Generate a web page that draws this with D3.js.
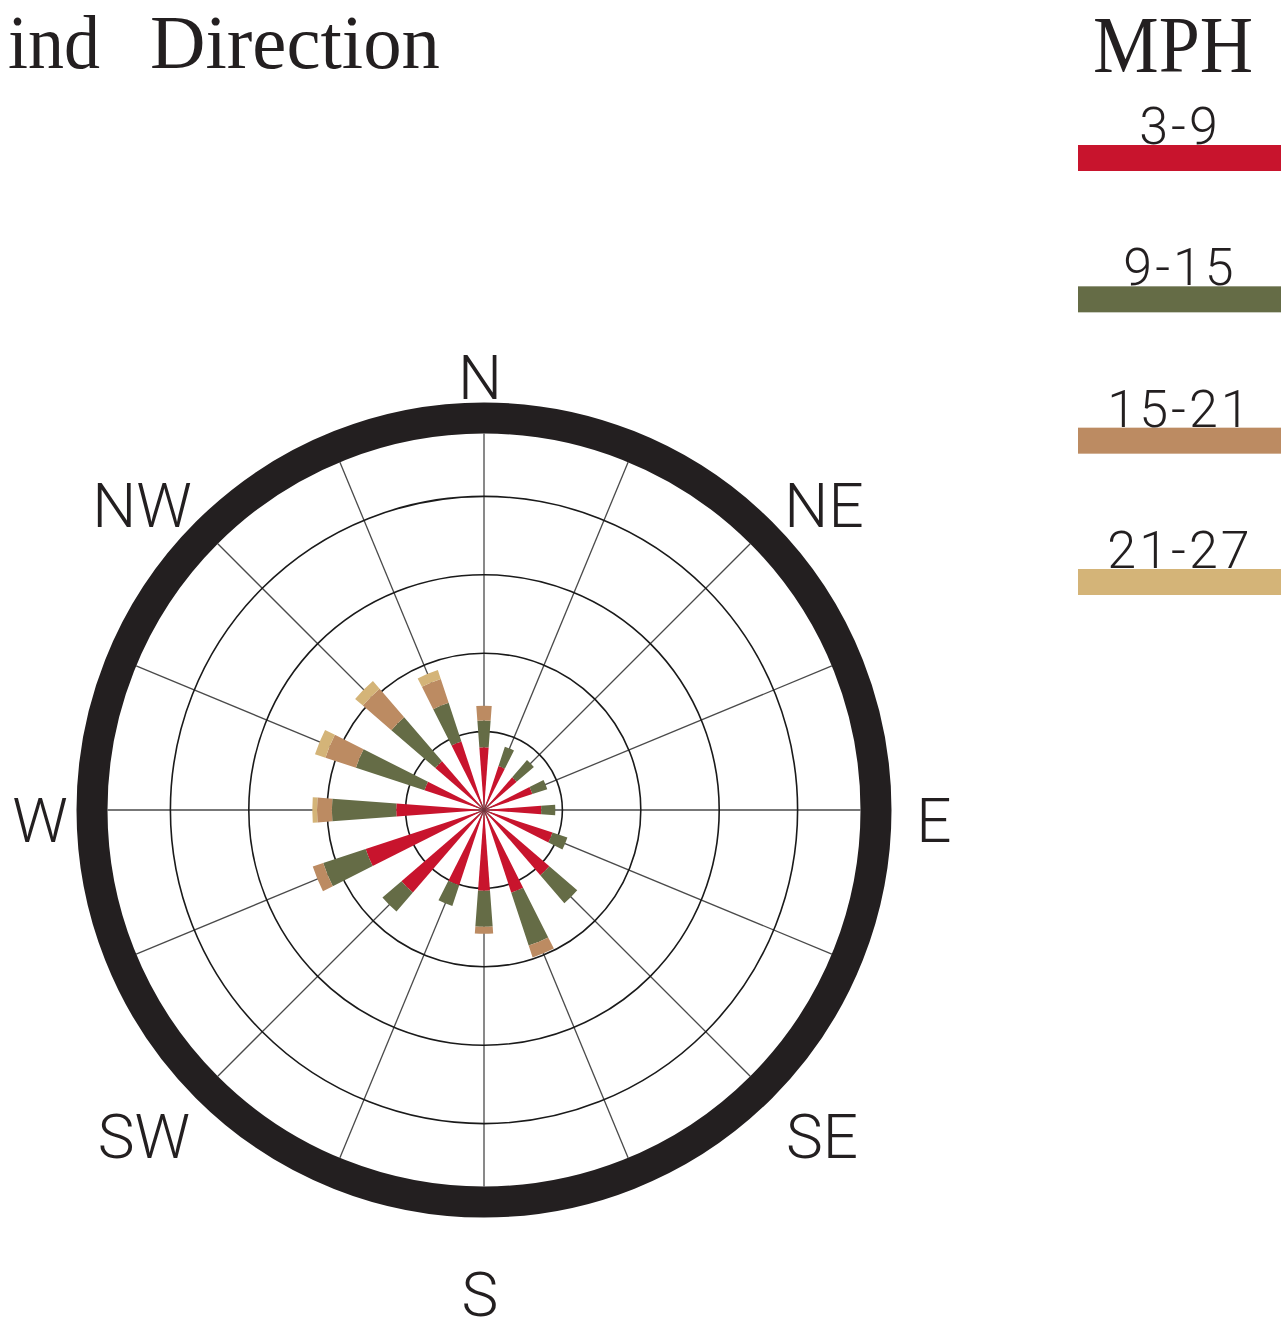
<!DOCTYPE html>
<html>
<head>
<meta charset="utf-8">
<script src="https://cdn.jsdelivr.net/npm/d3@7"></script>
<style>
  html, body { margin: 0; padding: 0; background: #fff; }
  svg { display: block; }
</style>
</head>
<body>
<script>
// ---------------- DATA ----------------
const directions = ["N","NNE","NE","ENE","E","ESE","SE","SSE","S","SSW","SW","WSW","W","WNW","NW","NNW"];
const speedBands = ["3-9","9-15","15-21","21-27"];
// frequency per band (one grid ring = 1 unit)
const band3to9   = [0.80,0.59,0.55,0.65,0.73,0.92,1.10,1.11,1.03,1.01,1.39,1.59,1.12,0.80,0.82,0.92];
const band9to15  = [0.34,0.26,0.29,0.20,0.18,0.20,0.47,0.71,0.46,0.28,0.32,0.57,0.82,0.92,0.74,0.52];
const band15to21 = [0.19,0.00,0.00,0.00,0.00,0.00,0.00,0.16,0.09,0.00,0.00,0.14,0.19,0.41,0.48,0.32];
const band21to27 = [0.00,0.00,0.00,0.00,0.00,0.00,0.00,0.00,0.00,0.00,0.00,0.00,0.06,0.14,0.13,0.12];
const gridTicks = [1,2,3,4];
const compassLabels = ["N","NE","E","SE","S","SW","W","NW"];
const titleWords = ["ind","Direction"];
const legendTitle = "MPH";
const bandColors = ["#C8142D","#656C46","#BC8B62","#D4B478"];

// ---------------- LAYOUT ----------------
const W = 1281, H = 1324;
const cx = 484, cy = 810;
const rMax = 392;        // radius of the heavy outer ring (5 units)
const ringWidth = 31;
const wedge = 8.5 * Math.PI / 180;

const svg = d3.select("body").append("svg").attr("width", W).attr("height", H);

const r = d3.scaleLinear().domain([0, 5]).range([0, rMax]);
const angle = d3.scalePoint().domain(directions).range([0, 2 * Math.PI * 15 / 16]);
const color = d3.scaleOrdinal().domain(speedBands).range(bandColors);

const g = svg.append("g").attr("transform", `translate(${cx},${cy})`);

// spokes
g.selectAll("line.spoke").data(directions).join("line")
  .attr("class", "spoke")
  .attr("x1", 0).attr("y1", 0)
  .attr("x2", d => Math.sin(angle(d)) * (rMax - ringWidth / 2))
  .attr("y2", d => -Math.cos(angle(d)) * (rMax - ringWidth / 2))
  .attr("stroke", "#4a4a4a").attr("stroke-width", 1.3);

// grid circles
g.selectAll("circle.grid").data(gridTicks).join("circle")
  .attr("class", "grid")
  .attr("r", d => r(d))
  .attr("fill", "none").attr("stroke", "#1a1a1a").attr("stroke-width", 1.6);

// outer ring
g.append("circle").attr("r", r(5)).attr("fill", "none")
  .attr("stroke", "#231F20").attr("stroke-width", ringWidth);

// stacked wedges
const bands = [band3to9, band9to15, band15to21, band21to27];
const segs = [];
directions.forEach((d, i) => {
  let acc = 0;
  bands.forEach((b, k) => {
    const v = b[i];
    if (v > 0) segs.push({dir: d, band: speedBands[k], r0: acc, r1: acc + v});
    acc += v;
  });
});
const arc = d3.arc()
  .innerRadius(s => r(s.r0))
  .outerRadius(s => r(s.r1))
  .startAngle(s => angle(s.dir) - wedge / 2)
  .endAngle(s => angle(s.dir) + wedge / 2);
g.selectAll("path.seg").data(segs).join("path")
  .attr("class", "seg")
  .attr("d", arc)
  .attr("fill", s => color(s.band));

// compass labels (offsets of label centre from chart centre)
const labelOffset = {N: [-4, -433], NE: [340, -305], E: [450, 10], SE: [338, 326],
                     S: [-4, 484], SW: [-340, 326], W: [-444, 10], NW: [-342, -305]};
svg.selectAll("text.compass").data(compassLabels).join("text")
  .attr("class", "compass")
  .attr("x", d => cx + labelOffset[d][0])
  .attr("y", d => cy + labelOffset[d][1] + 22)
  .attr("text-anchor", "middle")
  .attr("font-family", "Roboto, 'Liberation Sans', sans-serif")
  .attr("font-weight", 300)
  .attr("font-size", 62)
  .attr("fill", "#231F20")
  .text(d => d);

// title (left part is cropped in the reference)
const title = svg.append("g").attr("font-family", "'Liberation Serif', serif")
  .attr("font-size", 76).attr("fill", "#231F20");
title.append("text").attr("x", 8).attr("y", 68).attr("textLength", 92)
  .attr("lengthAdjust", "spacingAndGlyphs").text(titleWords[0]);
title.append("text").attr("x", 150).attr("y", 68).attr("textLength", 290)
  .attr("lengthAdjust", "spacingAndGlyphs").text(titleWords[1]);

// legend
svg.append("text").attr("x", 1093).attr("y", 72)
  .attr("font-family", "'Liberation Serif', serif").attr("font-size", 80)
  .attr("textLength", 160).attr("lengthAdjust", "spacingAndGlyphs")
  .attr("fill", "#231F20").text(legendTitle);

const legendY = d3.scalePoint().domain(speedBands).range([145, 569]);
const lg = svg.selectAll("g.leg").data(speedBands).join("g").attr("class", "leg");
lg.append("rect").attr("x", 1078).attr("y", d => legendY(d))
  .attr("width", W - 1078).attr("height", 26).attr("fill", d => color(d));
lg.append("text").attr("x", 1180).attr("y", d => legendY(d) - 1)
  .attr("text-anchor", "middle")
  .attr("font-family", "Roboto, 'Liberation Sans', sans-serif")
  .attr("font-weight", 300).attr("font-size", 52)
  .attr("letter-spacing", 3)
  .attr("fill", "#231F20")
  .text(d => d);
</script>
</body>
</html>
